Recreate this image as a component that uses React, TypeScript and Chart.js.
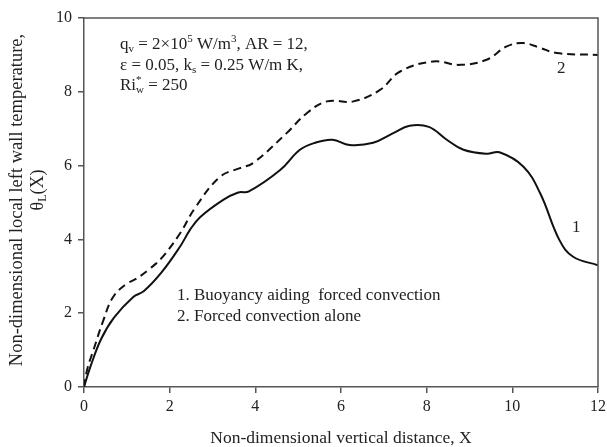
import React, { useEffect, useRef } from "react";
import { Chart, registerables } from "chart.js";

Chart.register(...registerables);

// Curve 1: Buoyancy aiding forced convection
const X1 = [0, 0.15, 0.4, 0.7, 1.15, 1.4, 1.8, 2.24, 2.47, 2.71, 3.25, 3.6, 3.85, 4.58, 5.04, 5.4, 5.8, 6.2, 6.75, 7.22, 7.6, 8.05, 8.47, 8.86, 9.4, 9.7, 10.26, 10.65, 11.1, 11.42, 12];
const Y1 = [0, 0.55, 1.3, 1.88, 2.44, 2.6, 3.09, 3.8, 4.25, 4.6, 5.07, 5.27, 5.3, 5.88, 6.43, 6.62, 6.7, 6.56, 6.62, 6.88, 7.08, 7.05, 6.7, 6.43, 6.32, 6.36, 5.97, 5.25, 3.98, 3.53, 3.3];
// Curve 2: Forced convection alone
const X2 = [0, 0.08, 0.22, 0.45, 0.68, 1.0, 1.23, 1.54, 1.81, 2.24, 2.59, 3.18, 3.64, 3.95, 4.73, 5.2, 5.67, 6.29, 6.91, 7.38, 8.15, 8.78, 9.4, 9.87, 10.26, 10.65, 11.04, 12];
const Y2 = [0, 0.5, 1.0, 1.8, 2.44, 2.8, 2.94, 3.21, 3.49, 4.16, 4.85, 5.7, 5.93, 6.07, 6.88, 7.42, 7.74, 7.74, 8.05, 8.55, 8.82, 8.73, 8.87, 9.23, 9.32, 9.19, 9.05, 9.0];

const X_MIN = 0, X_MAX = 12, X_STEP = 2;
const Y_MIN = 0, Y_MAX = 10, Y_STEP = 2;

const FONT = '"Liberation Serif", "Times New Roman", serif';
const TEXT = "#222";
const AXIS = "#555";

type Seg = { t: string; dy?: number; small?: boolean; noAdvance?: boolean };

function segWidth(ctx: CanvasRenderingContext2D, segs: Seg[], size: number) {
  let w = 0;
  for (const s of segs) {
    ctx.font = `${s.small ? Math.round(size * 0.65) : size}px ${FONT}`;
    if (!s.noAdvance) w += ctx.measureText(s.t).width;
  }
  return w;
}

function drawRich(ctx: CanvasRenderingContext2D, x: number, y: number, segs: Seg[], size: number) {
  let cx = x;
  for (const s of segs) {
    ctx.font = `${s.small ? Math.round(size * 0.65) : size}px ${FONT}`;
    ctx.fillText(s.t, cx, y + (s.dy || 0));
    if (!s.noAdvance) cx += ctx.measureText(s.t).width;
  }
}

const annotPlugin = {
  id: "annot",
  afterDraw(chart: any) {
    const ctx: CanvasRenderingContext2D = chart.ctx;
    const a = chart.chartArea;
    ctx.save();
    // box border top/right
    ctx.strokeStyle = AXIS;
    ctx.lineWidth = 1.5;
    ctx.beginPath();
    ctx.moveTo(a.left, a.top);
    ctx.lineTo(a.right, a.top);
    ctx.lineTo(a.right, a.bottom);
    ctx.stroke();

    ctx.fillStyle = TEXT;
    ctx.textAlign = "left";
    ctx.textBaseline = "alphabetic";
    const fs = 17;
    drawRich(ctx, 120, 49, [
      { t: "q" }, { t: "v", small: true, dy: 3 }, { t: " = 2×10" }, { t: "5", small: true, dy: -7 },
      { t: " W/m" }, { t: "3", small: true, dy: -7 }, { t: ", AR = 12," },
    ], fs);
    drawRich(ctx, 120, 70, [
      { t: "ε = 0.05, k" }, { t: "s", small: true, dy: 3 }, { t: " = 0.25 W/m K," },
    ], fs);
    drawRich(ctx, 120, 90, [
      { t: "Ri" }, { t: "*", small: true, dy: -7, noAdvance: true }, { t: "w", small: true, dy: 3 }, { t: " = 250" },
    ], fs);

    ctx.font = `${fs}px ${FONT}`;
    ctx.fillText("1. Buoyancy aiding  forced convection", 177, 300);
    ctx.fillText("2. Forced convection alone", 177, 321);
    ctx.fillText("2", 557, 73);
    ctx.fillText("1", 572, 232);

    // x title
    ctx.textAlign = "center";
    ctx.font = `17.5px ${FONT}`;
    ctx.fillText("Non-dimensional vertical distance, X", (a.left + a.right) / 2, 443);

    // y title
    ctx.save();
    ctx.translate(22, 200);
    ctx.rotate(-Math.PI / 2);
    ctx.textAlign = "center";
    ctx.font = `18.5px ${FONT}`;
    ctx.fillText("Non-dimensional local left wall temperature,", 0, 0);
    ctx.restore();

    ctx.save();
    ctx.translate(43, 190);
    ctx.rotate(-Math.PI / 2);
    ctx.textAlign = "left";
    const segs: Seg[] = [{ t: "θ" }, { t: "L", small: true, dy: 3 }, { t: "(X)" }];
    const w = segWidth(ctx, segs, 18);
    drawRich(ctx, -w / 2, 0, segs, 18);
    ctx.restore();

    ctx.restore();
  },
};

export default function App() {
  const ref = useRef<HTMLCanvasElement>(null);
  useEffect(() => {
    document.body.style.margin = "0";
    const d1 = X1.map((x, i) => ({ x, y: Y1[i] }));
    const d2 = X2.map((x, i) => ({ x, y: Y2[i] }));
    const chart = new Chart(ref.current!, {
      type: "line",
      data: {
        datasets: [
          { label: "1", data: d1, borderColor: "#111", borderWidth: 2, pointRadius: 0, tension: 0.4, fill: false },
          { label: "2", data: d2, borderColor: "#111", borderWidth: 2, borderDash: [8, 5], pointRadius: 0, tension: 0.4, fill: false },
        ],
      },
      options: {
        animation: false,
        responsive: false,
        layout: { padding: { top: 18, right: 9, left: 0, bottom: 0 } },
        plugins: { legend: { display: false }, tooltip: { enabled: false } },
        scales: {
          x: {
            type: "linear",
            min: X_MIN,
            max: X_MAX,
            ticks: { stepSize: X_STEP, color: TEXT, font: { family: FONT, size: 16 }, padding: 4, maxRotation: 0 },
            grid: { drawOnChartArea: false, tickLength: 6, color: AXIS, lineWidth: 1.5 },
            border: { color: AXIS, width: 1.5 },
            afterFit: (s: any) => { s.height = 60; s.paddingRight = 0; s.paddingLeft = 0; },
          },
          y: {
            min: Y_MIN,
            max: Y_MAX,
            ticks: { stepSize: Y_STEP, color: TEXT, font: { family: FONT, size: 16 }, padding: 6 },
            grid: { drawOnChartArea: false, tickLength: 6, color: AXIS, lineWidth: 1.5 },
            border: { color: AXIS, width: 1.5 },
            afterFit: (s: any) => { s.width = 84; s.paddingTop = 0; s.paddingBottom = 0; },
          },
        },
      },
      plugins: [annotPlugin],
    });
    return () => chart.destroy();
  }, []);
  return (
    <div style={{ width: 607, height: 447 }}>
      <canvas ref={ref} width={607} height={447} />
    </div>
  );
}
